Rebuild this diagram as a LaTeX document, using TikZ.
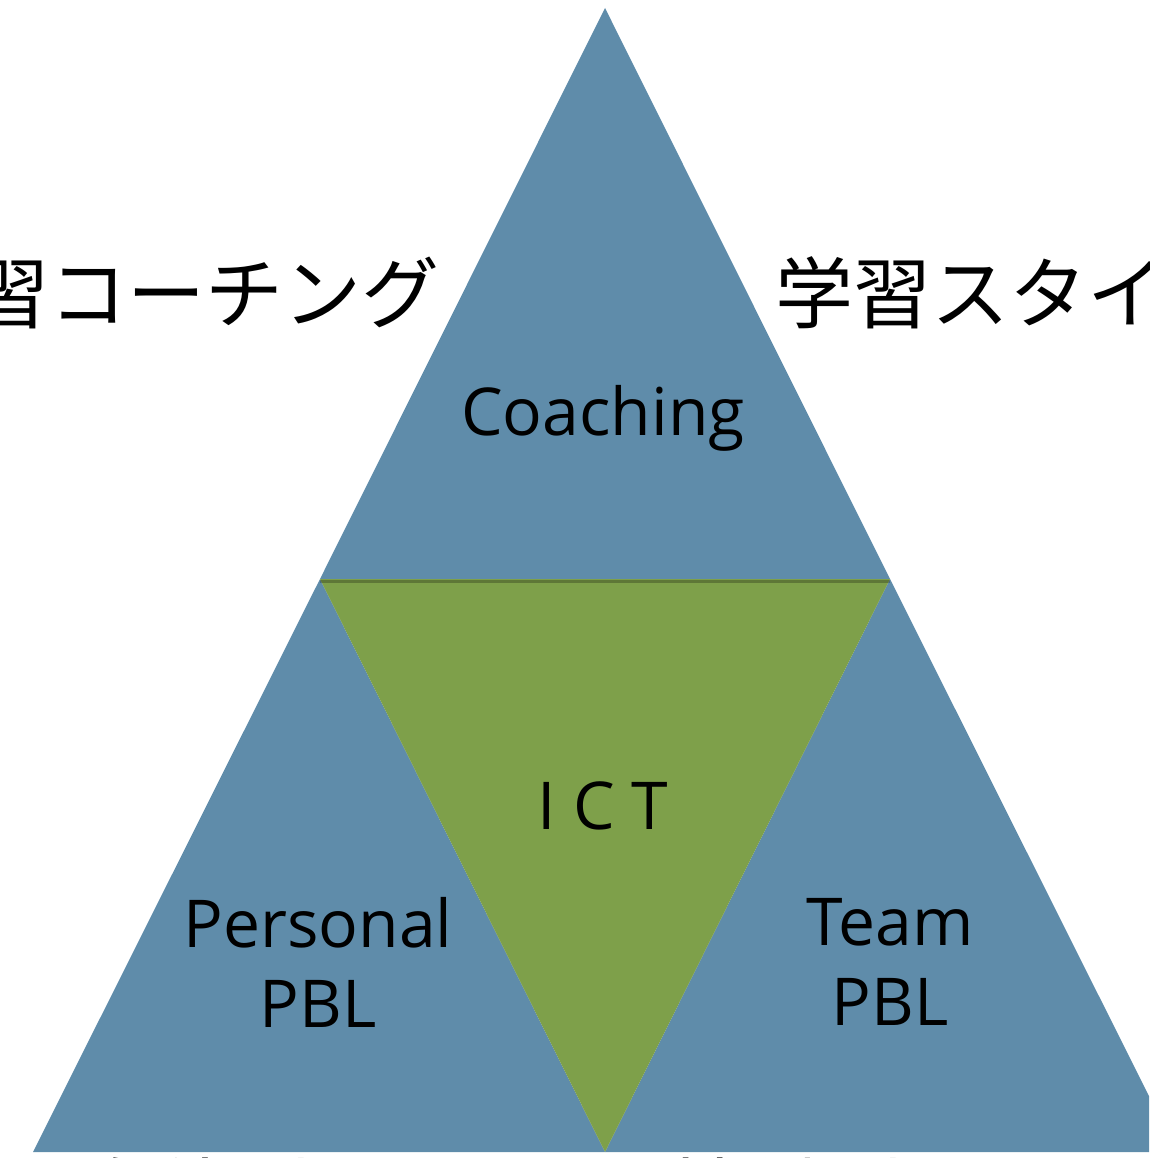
\documentclass[tikz,border=0pt]{standalone}
\usepackage{fontspec}
\usepackage{tikz}
\newfontfamily\labelfont{Open Sans}
\newfontfamily\jpfont{Noto Sans CJK JP}
\definecolor{pblblue}{HTML}{5F8CAA}
\definecolor{ictgreen}{HTML}{7EA04A}
\tikzset{
  piece/.style={fill=pblblue, draw=none},
  center/.style={fill=ictgreen, draw=none},
  label/.style={font=\labelfont\fontsize{66}{80}\selectfont, align=center, text=black},
  jplabel/.style={font=\jpfont\fontsize{78}{80}\selectfont, text=black, inner sep=0pt}
}

\begin{document}
\begin{tikzpicture}[x=1pt, y=-1pt]
            \useasboundingbox (0,0) rectangle (1149,1158);
            \clip (0,0) rectangle (1149,1158);

            % Vertices
            \coordinate (top) at (605,8);
            \coordinate (ml) at (320,579);
            \coordinate (mr) at (890,579);
            \coordinate (bl) at (33,1152);
            \coordinate (bm) at (605,1152);
            \coordinate (br) at (1177,1152);

            % Triangulos azules
            \fill[piece] (top) -- (mr) -- (ml) -- cycle;
            \fill[piece] (ml) -- (bm) -- (bl) -- cycle;
            \fill[piece] (mr) -- (br) -- (bm) -- cycle;
            % Triangulo verde
            \fill[center] (ml) -- (mr) -- (bm) -- cycle;
            % Sombra
            \draw[black, opacity=0.25, line width=3pt] ([yshift=-2pt]ml) -- ([yshift=-2pt]mr);

            % Textos
            \node[label] (coaching) at (603,418) {Coaching};
            \node[label] (ict) at (603,806) {I C T};
            \node[label] (personal) at (318,962) {Personal\\PBL};
            \node[label] (team) at (890,962) {Team\\PBL};

            % Textos japoneses
            \node[jplabel, anchor=east] (coach) at (440,293) {学習コーチング};
            \node[jplabel, anchor=west] (style) at (775,293) {学習スタイル};
            \node[jplabel, anchor=north west] (solo) at (78,1158) {自律型プロセス};
            \node[jplabel, anchor=north west] (group) at (670,1158) {協働型プロセス};
\end{tikzpicture}
\end{document}
